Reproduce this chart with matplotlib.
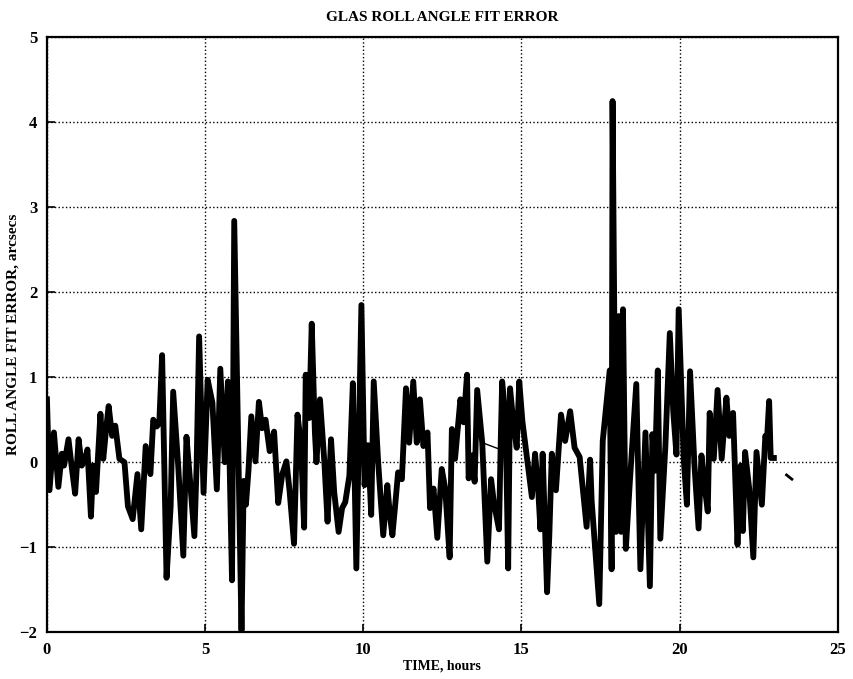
import matplotlib
matplotlib.use("Agg")
import matplotlib.pyplot as plt

# time (hours) and roll angle fit error (arcsecs)
time_hours = [
    0.00, 0.08, 0.22, 0.36, 0.47, 0.54, 0.68, 0.79, 0.89, 1.00,
    1.10, 1.21, 1.28, 1.39, 1.46, 1.55, 1.69, 1.78, 1.87, 1.95,
    2.06, 2.16, 2.29, 2.45, 2.56, 2.71, 2.86, 2.98, 3.12, 3.27,
    3.36, 3.47, 3.55, 3.64, 3.78, 3.91, 3.99, 4.15, 4.31, 4.41,
    4.52, 4.66, 4.73, 4.81, 4.95, 5.08, 5.23, 5.37, 5.48, 5.62,
    5.72, 5.85, 5.92, 6.15, 6.22, 6.29, 6.37, 6.46, 6.59, 6.70,
    6.80, 6.91, 7.04, 7.18, 7.31, 7.44, 7.57, 7.67, 7.81, 7.92,
    8.03, 8.13, 8.18, 8.29, 8.37, 8.47, 8.52, 8.63, 8.77, 8.87,
    8.98, 9.08, 9.22, 9.33, 9.43, 9.56, 9.67, 9.78, 9.94, 10.04,
    10.15, 10.25, 10.33, 10.47, 10.63, 10.76, 10.84, 10.92, 11.00, 11.10,
    11.22, 11.35, 11.45, 11.58, 11.69, 11.79, 11.90, 12.03, 12.11, 12.22,
    12.34, 12.48, 12.59, 12.73, 12.80, 12.90, 13.07, 13.17, 13.28, 13.33,
    13.44, 13.52, 13.60, 13.76, 13.92, 14.04, 14.13, 14.29, 14.35, 14.39,
    14.50, 14.58, 14.64, 14.74, 14.85, 14.93, 15.03, 15.17, 15.33, 15.43,
    15.53, 15.60, 15.67, 15.81, 15.88, 15.96, 16.09, 16.25, 16.38, 16.54,
    16.68, 16.84, 17.06, 17.17, 17.22, 17.46, 17.57, 17.79, 17.85, 17.88,
    17.99, 18.08, 18.15, 18.21, 18.30, 18.43, 18.63, 18.76, 18.92, 19.06,
    19.14, 19.22, 19.31, 19.39, 19.55, 19.69, 19.80, 19.90, 19.97, 20.13,
    20.23, 20.33, 20.47, 20.60, 20.69, 20.80, 20.89, 20.95, 21.08, 21.20,
    21.33, 21.48, 21.57, 21.69, 21.83, 21.93, 22.00, 22.07, 22.20, 22.33,
    22.43, 22.60, 22.71, 22.76, 22.83, 22.88, 22.98,
]
fit_error = [
    0.74, -0.33, 0.35, -0.29, 0.10, -0.04, 0.27, -0.08, -0.37, 0.27,
    -0.04, 0.04, 0.15, -0.64, -0.04, -0.35, 0.57, 0.04, 0.39, 0.66,
    0.31, 0.43, 0.04, 0.00, -0.52, -0.67, -0.14, -0.79, 0.19, -0.14,
    0.50, 0.42, 0.46, 1.26, -1.36, -0.52, 0.83, -0.05, -1.10, 0.30,
    -0.20, -0.87, -0.05, 1.48, -0.36, 0.97, 0.70, -0.32, 1.10, 0.00,
    0.95, -1.39, 2.84, -1.98, -0.22, -0.50, -0.10, 0.54, 0.01, 0.71,
    0.40, 0.50, 0.13, 0.36, -0.48, -0.14, 0.01, -0.34, -0.96, 0.56,
    0.21, -0.77, 1.03, 0.52, 1.63, 0.35, 0.00, 0.74, 0.00, -0.70,
    0.27, -0.35, -0.82, -0.54, -0.47, -0.16, 0.93, -1.25, 1.85, -0.27,
    0.20, -0.62, 0.95, 0.00, -0.86, -0.27, -0.62, -0.86, -0.54, -0.12,
    -0.20, 0.87, 0.23, 0.95, 0.23, 0.74, 0.19, 0.35, -0.54, -0.31,
    -0.89, -0.08, -0.31, -1.12, 0.39, 0.04, 0.74, 0.47, 1.03, -0.19,
    0.08, -0.23, 0.85, 0.23, -1.17, -0.20, -0.48, -0.79, 0.33, 0.95,
    0.52, -1.25, 0.87, 0.48, 0.17, 0.95, 0.48, 0.06, -0.41, 0.10,
    -0.33, -0.79, 0.10, -1.53, -0.87, 0.10, -0.33, 0.56, 0.25, 0.60,
    0.17, 0.06, -0.76, 0.03, -0.46, -1.67, 0.25, 1.08, -1.26, 4.25,
    -0.82, 1.72, -0.82, 1.80, -1.02, -0.21, 0.92, -1.26, 0.35, -1.46,
    0.33, -0.10, 1.08, -0.90, 0.19, 1.52, 0.59, 0.09, 1.80, 0.04,
    -0.50, 1.07, -0.04, -0.78, 0.08, -0.31, -0.58, 0.58, 0.04, 0.85,
    0.04, 0.76, 0.31, 0.58, -0.97, -0.04, -0.81, 0.12, -0.31, -1.12,
    0.12, -0.50, 0.31, 0.25, 0.72, 0.05, 0.05,
]

# thin connecting segment and stray mark visible in the scan
gap_time = [13.76, 14.33]
gap_error = [0.23, 0.15]
stray_time = [23.38, 23.55]
stray_error = [-0.15, -0.20]

plt.rcParams['font.family'] = ['Liberation Serif', 'DejaVu Serif']

fig = plt.figure(figsize=(8.54, 6.79), dpi=100)
ax = fig.add_axes([0.055, 0.069, 0.926, 0.876])

ax.plot(time_hours, fit_error, color='black', linewidth=4.2, solid_joinstyle='round')
ax.plot(gap_time, gap_error, color='black', linewidth=1.0)
ax.plot(stray_time, stray_error, color='black', linewidth=2.0)

ax.set_xlim(0, 25)
ax.set_ylim(-2, 5)
ax.set_xticks([0, 5, 10, 15, 20, 25])
ax.set_yticks([-2, -1, 0, 1, 2, 3, 4, 5])
ax.grid(True, color='black', linestyle=':', linewidth=1.0)
ax.tick_params(direction='in', length=6, width=1.2, labelsize=12, pad=7)
for lbl in ax.get_xticklabels() + ax.get_yticklabels():
    lbl.set_fontweight('bold')
for sp in ax.spines.values():
    sp.set_linewidth(1.6)

ax.set_title('GLAS ROLL ANGLE FIT ERROR', fontsize=11, fontweight='bold', pad=12)
ax.set_xlabel('TIME, hours', fontsize=10, fontweight='bold', labelpad=1)
ax.set_ylabel('ROLL ANGLE FIT ERROR, arcsecs', fontsize=11, fontweight='bold', labelpad=0)

fig.savefig('out.png', dpi=100)
